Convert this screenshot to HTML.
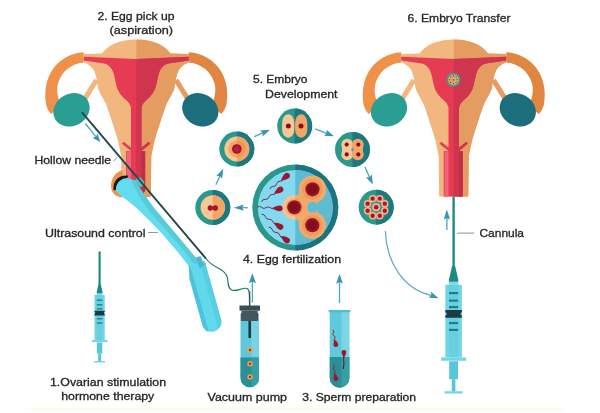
<!DOCTYPE html>
<html lang="en">
<head>
<meta charset="utf-8">
<title>IVF procedure</title>
<style>
html,body{margin:0;padding:0;background:#fff;}
body{width:600px;height:413px;overflow:hidden;}
svg{display:block;}
text{font-family:"Liberation Sans",sans-serif;font-size:11.6px;fill:#262626;stroke:#262626;stroke-width:0.32px;}
</style>
</head>
<body>
<svg width="600" height="413" viewBox="0 0 600 413">
<defs>
  <filter id="soft" x="-2%" y="-2%" width="104%" height="104%"><feGaussianBlur stdDeviation="0.6"/></filter>
  <marker id="ah" viewBox="0 0 10 10" refX="5" refY="5" markerWidth="7.5" markerHeight="7.5" orient="auto" markerUnits="userSpaceOnUse">
    <path d="M0,0.8 L10,5 L0,9.2 L2.8,5 Z" fill="#3d93b8"/>
  </marker>
</defs>
<rect width="600" height="413" fill="#ffffff"/>
<rect x="25" y="408" width="539" height="3.6" fill="#fefbf2"/>
<g filter="url(#soft)">
<!-- left uterus -->
<g transform="translate(0 0)">
<path d="M83.75,52.2 C70,53 58,60 51,72 C46,81 44,92 46,104 C46.8,108 48.5,111 51,114 L62,106 C57,99 56,88 58.5,82 C62,72 70,64 83.75,62.5 Z" fill="#ef9149"/>
<path d="M188.75,52.2 C202.5,53 214.5,60 221.5,72 C226.5,81 228.5,92 226.5,104 C225.7,108 224.0,111 221.5,114 L210.5,106 C215.5,99 216.5,88 214.0,82 C210.5,72 202.5,64 188.75,62.5 Z" fill="#e0863f"/>
<path d="M96.5,80 L85,98.5" stroke="#f2b67f" stroke-width="5.2" fill="none"/>
<path d="M176,80 L187.5,98.5" stroke="#e49c61" stroke-width="5.2" fill="none"/>
<ellipse cx="71.5" cy="109.8" rx="18.8" ry="16" transform="rotate(-30 71.5 109.8)" fill="#2a9e92"/>
<ellipse cx="200.3" cy="109.8" rx="18.8" ry="16" transform="rotate(30 200.3 109.8)" fill="#1d6e7c"/>
<clipPath id="rha"><rect x="136.25" y="30" width="80" height="200"/></clipPath>
<path d="M83.75,54 L102,53.4 C108,45 120,39.5 136.25,39.5 C152.5,39.5 164.5,45 170.5,53.4 L188.75,54 L188.75,62.4 C184,63.8 180.5,66.8 178.5,70.5 C176,76 175.5,82 174.5,88 C173.5,92 170,97 166.5,104 C162.5,115 158,129 155,139 C153.5,145 152.5,150 151.3,156 L150.8,197 L121.7,197 L121.2,156 C120,150 119,145 117.5,139 C114.5,129 110,115 106,104 C102.5,97 99,92 98,88 C97,82 96.5,76 94,70.5 C92,66.8 88.5,63.8 83.75,62.4 Z" fill="#f2b67f"/>
<path d="M83.75,54 L102,53.4 C108,45 120,39.5 136.25,39.5 C152.5,39.5 164.5,45 170.5,53.4 L188.75,54 L188.75,62.4 C184,63.8 180.5,66.8 178.5,70.5 C176,76 175.5,82 174.5,88 C173.5,92 170,97 166.5,104 C162.5,115 158,129 155,139 C153.5,145 152.5,150 151.3,156 L150.8,197 L121.7,197 L121.2,156 C120,150 119,145 117.5,139 C114.5,129 110,115 106,104 C102.5,97 99,92 98,88 C97,82 96.5,76 94,70.5 C92,66.8 88.5,63.8 83.75,62.4 Z" fill="#e49c61" clip-path="url(#rha)"/>
<path d="M83.75,56.7 L136.25,59 L188.75,56.7 L188.75,60.4 L168.5,63.6 C163.5,64.8 160.5,68.5 159.0,73 C157.5,78 157.2,81 156.2,85 C154.7,91.5 151.5,95.5 147.5,99 C144.0,102 142.0,104.5 141.5,108 L141.5,116 L141.5,147.6 L148.8,141.8 L150.4,143.8 L141.5,151 L145.2,151 L145.2,197 L126.2,197 L126.2,151 L131,151 L122,143.8 L123.6,141.8 L131,147.6 L131,116 L131,108 C130.5,104.5 128.5,102 125,99 C121,95.5 117.8,91.5 116.3,85 C115.3,81 115,78 113.5,73 C112,68.5 109,64.8 104,63.6 L83.75,60.4 Z" fill="#e63a52"/>
<path d="M83.75,56.7 L136.25,59 L188.75,56.7 L188.75,60.4 L168.5,63.6 C163.5,64.8 160.5,68.5 159.0,73 C157.5,78 157.2,81 156.2,85 C154.7,91.5 151.5,95.5 147.5,99 C144.0,102 142.0,104.5 141.5,108 L141.5,116 L141.5,147.6 L148.8,141.8 L150.4,143.8 L141.5,151 L145.2,151 L145.2,197 L126.2,197 L126.2,151 L131,151 L122,143.8 L123.6,141.8 L131,147.6 L131,116 L131,108 C130.5,104.5 128.5,102 125,99 C121,95.5 117.8,91.5 116.3,85 C115.3,81 115,78 113.5,73 C112,68.5 109,64.8 104,63.6 L83.75,60.4 Z" fill="#d0364f" clip-path="url(#rha)"/>
<rect x="127" y="151.4" width="4" height="45.6" fill="#f0657c"/>
<rect x="141.5" y="151.4" width="3.5" height="45.6" fill="#c02f49"/>
</g>
<path d="M122,170 C116,172 111,178 111,186 C111,193 116,198 124,197 L130,190 L124,176 Z" fill="#ea9550"/>
<path d="M150.5,185 L150.5,197 L140,197 Z" fill="#e49c61"/>
<!-- right uterus -->
<g transform="translate(317.5 0)">
<path d="M83.75,52.2 C70,53 58,60 51,72 C46,81 44,92 46,104 C46.8,108 48.5,111 51,114 L62,106 C57,99 56,88 58.5,82 C62,72 70,64 83.75,62.5 Z" fill="#ef9149"/>
<path d="M188.75,52.2 C202.5,53 214.5,60 221.5,72 C226.5,81 228.5,92 226.5,104 C225.7,108 224.0,111 221.5,114 L210.5,106 C215.5,99 216.5,88 214.0,82 C210.5,72 202.5,64 188.75,62.5 Z" fill="#e0863f"/>
<path d="M96.5,80 L85,98.5" stroke="#f2b67f" stroke-width="5.2" fill="none"/>
<path d="M176,80 L187.5,98.5" stroke="#e49c61" stroke-width="5.2" fill="none"/>
<ellipse cx="71.5" cy="109.8" rx="18.8" ry="16" transform="rotate(-30 71.5 109.8)" fill="#2a9e92"/>
<ellipse cx="200.3" cy="109.8" rx="18.8" ry="16" transform="rotate(30 200.3 109.8)" fill="#1d6e7c"/>
<clipPath id="rhb"><rect x="136.25" y="30" width="80" height="200"/></clipPath>
<path d="M83.75,54 L102,53.4 C108,45 120,39.5 136.25,39.5 C152.5,39.5 164.5,45 170.5,53.4 L188.75,54 L188.75,62.4 C184,63.8 180.5,66.8 178.5,70.5 C176,76 175.5,82 174.5,88 C173.5,92 170,97 166.5,104 C162.5,115 158,129 155,139 C153.5,145 152.5,150 151.3,156 L150.8,196.6 L121.7,196.6 L121.2,156 C120,150 119,145 117.5,139 C114.5,129 110,115 106,104 C102.5,97 99,92 98,88 C97,82 96.5,76 94,70.5 C92,66.8 88.5,63.8 83.75,62.4 Z" fill="#f2b67f"/>
<path d="M83.75,54 L102,53.4 C108,45 120,39.5 136.25,39.5 C152.5,39.5 164.5,45 170.5,53.4 L188.75,54 L188.75,62.4 C184,63.8 180.5,66.8 178.5,70.5 C176,76 175.5,82 174.5,88 C173.5,92 170,97 166.5,104 C162.5,115 158,129 155,139 C153.5,145 152.5,150 151.3,156 L150.8,196.6 L121.7,196.6 L121.2,156 C120,150 119,145 117.5,139 C114.5,129 110,115 106,104 C102.5,97 99,92 98,88 C97,82 96.5,76 94,70.5 C92,66.8 88.5,63.8 83.75,62.4 Z" fill="#e49c61" clip-path="url(#rhb)"/>
<path d="M83.75,56.7 L136.25,59 L188.75,56.7 L188.75,60.4 L168.5,63.6 C163.5,64.8 160.5,68.5 159.0,73 C157.5,78 157.2,81 156.2,85 C154.7,91.5 151.5,95.5 147.5,99 C144.0,102 142.0,104.5 141.5,108 L141.5,116 L141.5,147.6 L148.8,141.8 L150.4,143.8 L141.5,151 L145.2,151 L145.2,196.6 L126.2,196.6 L126.2,151 L131,151 L122,143.8 L123.6,141.8 L131,147.6 L131,116 L131,108 C130.5,104.5 128.5,102 125,99 C121,95.5 117.8,91.5 116.3,85 C115.3,81 115,78 113.5,73 C112,68.5 109,64.8 104,63.6 L83.75,60.4 Z" fill="#e63a52"/>
<path d="M83.75,56.7 L136.25,59 L188.75,56.7 L188.75,60.4 L168.5,63.6 C163.5,64.8 160.5,68.5 159.0,73 C157.5,78 157.2,81 156.2,85 C154.7,91.5 151.5,95.5 147.5,99 C144.0,102 142.0,104.5 141.5,108 L141.5,116 L141.5,147.6 L148.8,141.8 L150.4,143.8 L141.5,151 L145.2,151 L145.2,196.6 L126.2,196.6 L126.2,151 L131,151 L122,143.8 L123.6,141.8 L131,147.6 L131,116 L131,108 C130.5,104.5 128.5,102 125,99 C121,95.5 117.8,91.5 116.3,85 C115.3,81 115,78 113.5,73 C112,68.5 109,64.8 104,63.6 L83.75,60.4 Z" fill="#d0364f" clip-path="url(#rhb)"/>
<rect x="127" y="151.4" width="4" height="45.2" fill="#f0657c"/>
<rect x="141.5" y="151.4" width="3.5" height="45.2" fill="#c02f49"/>
</g>
<circle cx="453.4" cy="79.8" r="7.1" fill="#3a9c8e"/>
<circle cx="453.4" cy="79.8" r="5.4" fill="#c9c08e" opacity="0.75"/>
<circle cx="457.30" cy="79.80" r="1.5" fill="#e8b070"/><circle cx="457.30" cy="79.80" r="0.8" fill="#c02838"/>
<circle cx="456.16" cy="82.56" r="1.5" fill="#e8b070"/><circle cx="456.16" cy="82.56" r="0.8" fill="#c02838"/>
<circle cx="453.40" cy="83.70" r="1.5" fill="#e8b070"/><circle cx="453.40" cy="83.70" r="0.8" fill="#c02838"/>
<circle cx="450.64" cy="82.56" r="1.5" fill="#e8b070"/><circle cx="450.64" cy="82.56" r="0.8" fill="#c02838"/>
<circle cx="449.50" cy="79.80" r="1.5" fill="#e8b070"/><circle cx="449.50" cy="79.80" r="0.8" fill="#c02838"/>
<circle cx="450.64" cy="77.04" r="1.5" fill="#e8b070"/><circle cx="450.64" cy="77.04" r="0.8" fill="#c02838"/>
<circle cx="453.40" cy="75.90" r="1.5" fill="#e8b070"/><circle cx="453.40" cy="75.90" r="0.8" fill="#c02838"/>
<circle cx="456.16" cy="77.04" r="1.5" fill="#e8b070"/><circle cx="456.16" cy="77.04" r="0.8" fill="#c02838"/>
<circle cx="453.4" cy="79.8" r="1.7" fill="#e8b070"/><circle cx="453.4" cy="79.8" r="0.9" fill="#c02838"/>
<!-- probe -->
<path d="M113.6,190.5 C112.4,180.5 119,174.8 128,175.6 L127.3,179 C121.5,178.8 117.2,182.8 117.4,189.5 Z" fill="#15181a"/>
<path d="M115.6,191.2 L116.3,185.8 L118.8,181.6 L123,178.8 L127,177.9 L136,180.6 L139.5,187.5 L146,197 L154,208 L160,215 L196.5,258.5 L201,264 L192,272 L189.5,267 C178,252 168,240 158.5,230 C150,221 140,210.5 128,201 C123,197.5 119,194 116,191 Z" fill="#63dcf0"/>
<path d="M131,179.4 L136,180.6 L139.5,187.5 L146,197 L154,208 L160,215 L196.5,258.5 L200,263 L196,266.5 L193,262.7 C180,246 168,232 157,220 C148,210 139,198 131,179.4 Z" fill="#57ccd6"/>
<g transform="translate(195.5 264) rotate(-15.6)"><path d="M-7,0 L9.7,-0.5 L9.7,60.3 A9.7,9.7 0 0 1 -9.7,60.3 L-9.7,13 Z" fill="#62d8ec"/><path d="M-9.7,13 L-7,0 L-5.5,0 L-5.5,69 A9.7,9.7 0 0 1 -9.7,60.3 Z" fill="#4cc4da"/><path d="M4.5,-0.4 L9.7,-0.5 L9.7,60.3 A9.7,9.7 0 0 1 4.5,68.6 Z" fill="#56cfe2"/></g>
<path d="M196,257.5 L200.5,256 L204.5,266 L199.5,268.5 Z" fill="#4fb4d4"/>
<path d="M135.8,178 L140.5,177.6 L144.2,182 L144.2,185.8 L140,187 L136.3,181.5 Z" fill="#56c9bd"/>
<path d="M81.8,112.1 L206,258.6" stroke="#25474c" stroke-width="1.9" fill="none"/>
<path d="M205.5,258 C208.5,262 212,265 218,268 C223,270.5 226.5,273 227.5,278 C228.3,283 227.5,288.5 232,290.2 C237,291.8 243,287 247,288.5 C249.6,289.5 249.6,293 249.6,306" stroke="#1f7f66" stroke-width="1.2" fill="none"/>
<path d="M249.6,291.5 L249.6,306" stroke="#3a4f56" stroke-width="1.4" fill="none"/>
<path d="M85.3,123.5 L96.66,137.57" stroke="#4aa6c4" stroke-width="1.3" fill="none"/>
<path d="M100.40,142.20 L92.53,137.63 L95.91,136.64 L97.59,133.55 Z" fill="#3a93b6"/>
<path d="M113.5,161.2 L117,157.3" stroke="#5fa8c0" stroke-width="1" fill="none"/>
<path d="M148,232.5 L158,232.5" stroke="#6fa3b4" stroke-width="1" fill="none"/>
<path d="M457.2,233.1 L474.2,233.1" stroke="#7a98a4" stroke-width="1" fill="none"/>
<!-- vacuum pump -->
<clipPath id="cpvp"><rect x="251.5" y="300" width="20" height="100"/></clipPath>
<path d="M240.5,321 L259,321 L259,378 A9.25,9.25 0 0 1 240.5,378 Z" fill="#5fc9dc"/>
<path d="M240.5,321 L259,321 L259,378 A9.25,9.25 0 0 1 240.5,378 Z" fill="#76d4e5" clip-path="url(#cpvp)"/>
<clipPath id="cpvl"><rect x="230" y="357.5" width="40" height="40"/></clipPath>
<path d="M240.5,321 L259,321 L259,378 A9.25,9.25 0 0 1 240.5,378 Z" fill="#2a8f96" clip-path="url(#cpvl)"/>
<clipPath id="cpvl2"><rect x="251.5" y="357.5" width="20" height="40"/></clipPath>
<path d="M240.5,321 L259,321 L259,378 A9.25,9.25 0 0 1 240.5,378 Z" fill="#35a0a4" clip-path="url(#cpvl2)"/>
<rect x="239.5" y="305.5" width="20.5" height="5.2" fill="#3a4d52"/>
<path d="M241.5,310.7 L257.7,310.7 L257.7,313 L258.5,313.4 L258.5,321 L240.7,321 L240.7,313.4 L241.5,313 Z" fill="#3f585d"/>
<rect x="248.4" y="321" width="2.6" height="17" fill="#27383c"/>
<circle cx="250" cy="350" r="2.7" fill="#f3a33a"/><circle cx="250" cy="350" r="1.2" fill="#c4213a"/>
<circle cx="250" cy="363.7" r="2.7" fill="#f3a33a"/><circle cx="250" cy="363.7" r="1.2" fill="#c4213a"/>
<circle cx="250" cy="376.9" r="2.7" fill="#f3a33a"/><circle cx="250" cy="376.9" r="1.2" fill="#c4213a"/>
<path d="M252.4,302.6 L252.40,280.20" stroke="#4aa6c4" stroke-width="1.3" fill="none"/>
<path d="M252.40,273.20 L256.00,283.20 L252.40,281.60 L248.80,283.20 Z" fill="#3a93b6"/>
<!-- sperm tube -->
<clipPath id="cpst"><rect x="341.5" y="300" width="20" height="100"/></clipPath>
<path d="M329.7,311.5 L349.3,311.5 L349.3,377.9 A9.8,9.8 0 0 1 329.7,377.9 Z" fill="#5fc9dc"/>
<path d="M329.7,311.5 L349.3,311.5 L349.3,377.9 A9.8,9.8 0 0 1 329.7,377.9 Z" fill="#7ad6e6" clip-path="url(#cpst)"/>
<clipPath id="cpsl"><rect x="320" y="357" width="40" height="40"/></clipPath>
<path d="M329.7,311.5 L349.3,311.5 L349.3,377.9 A9.8,9.8 0 0 1 329.7,377.9 Z" fill="#2a8f96" clip-path="url(#cpsl)"/>
<clipPath id="cpsl2"><rect x="341.5" y="357" width="20" height="40"/></clipPath>
<path d="M329.7,311.5 L349.3,311.5 L349.3,377.9 A9.8,9.8 0 0 1 329.7,377.9 Z" fill="#35a0a4" clip-path="url(#cpsl2)"/>
<rect x="328.5" y="310" width="22" height="2.2" rx="1" fill="#4fbdd2"/>
<path d="M339.5,303 L339.50,280.70" stroke="#4aa6c4" stroke-width="1.3" fill="none"/>
<path d="M339.50,273.70 L342.90,283.70 L339.50,282.10 L336.10,283.70 Z" fill="#3a93b6"/>
<path d="M335.20,341.65 Q333.13,340.56 334.58,338.72 Q336.03,336.88 333.95,335.78 Q331.88,334.69 333.33,332.85 Q334.78,331.01 332.71,329.91 " stroke="#a3122a" stroke-width="0.9" fill="none"/><path d="M3.0,0 C3.0,3.30 -0.60,3.00 -4.50,0 C-0.60,-3.00 3.0,-3.30 3.0,0 Z" transform="translate(335.7 344) rotate(78)" fill="#a3122a"/>
<path d="M343.90,355.40 Q345.70,355.40 343.90,355.40 Q342.10,355.40 343.90,355.40 Q345.70,355.40 343.90,355.40 Q342.10,355.40 343.90,355.40 " stroke="#a3122a" stroke-width="0.9" fill="none"/><path d="M3.0,0 C3.0,3.30 -0.60,3.00 -4.50,0 C-0.60,-3.00 3.0,-3.30 3.0,0 Z" transform="translate(343.9 353) rotate(-90)" fill="#a3122a"/>
<path d="M343.9,356 C343,360 344.8,363 343.3,369" stroke="#5a1020" stroke-width="1" fill="none"/>
<path d="M335.28,375.64 Q333.27,374.59 334.81,372.93 Q336.34,371.26 334.33,370.22 Q332.32,369.18 333.85,367.51 Q335.38,365.85 333.37,364.80 " stroke="#a3122a" stroke-width="0.9" fill="none"/><path d="M3.0,0 C3.0,3.30 -0.60,3.00 -4.50,0 C-0.60,-3.00 3.0,-3.30 3.0,0 Z" transform="translate(335.7 378) rotate(80)" fill="#a3122a"/>
<!-- big circle -->
<clipPath id="cpB"><rect x="295.3" y="163.5" width="44" height="88"/></clipPath>
<circle cx="295.3" cy="207.5" r="43" fill="#2a968c"/>
<circle cx="295.3" cy="207.5" r="43" fill="#1f747e" clip-path="url(#cpB)"/>
<circle cx="295.3" cy="207.5" r="37.5" fill="#82d9f0"/>
<circle cx="295.3" cy="207.5" r="37.5" fill="#5ebad2" clip-path="url(#cpB)"/>
<g fill="#f6c290"><circle cx="312.5" cy="189.3" r="13.6"/><circle cx="294.3" cy="207.3" r="12.2"/><circle cx="312.3" cy="225.2" r="13.4"/><path d="M298,194 L317.5,198 L317.5,216.5 L298,221 Z"/></g>
<g fill="#f1a868" clip-path="url(#cpB)"><circle cx="312.5" cy="189.3" r="13.6"/><circle cx="294.3" cy="207.3" r="12.2"/><circle cx="312.3" cy="225.2" r="13.4"/><path d="M298,194 L317.5,198 L317.5,216.5 L298,221 Z"/></g>
<g fill="#f3ae78"><circle cx="312.5" cy="189.3" r="10.399999999999999"/><circle cx="294.3" cy="207.3" r="9.0"/><circle cx="312.3" cy="225.2" r="10.2"/></g>
<g fill="#ee9a58" clip-path="url(#cpB)"><circle cx="312.5" cy="189.3" r="10.399999999999999"/><circle cx="294.3" cy="207.3" r="9.0"/><circle cx="312.3" cy="225.2" r="10.2"/></g>
<circle cx="312.7" cy="207.2" r="5.4" fill="#55bede"/><rect x="313" y="204.3" width="8" height="5.8" fill="#5ebad2"/>
<circle cx="312.5" cy="189.3" r="7.1" fill="#9c1428"/><circle cx="312.5" cy="189.3" r="5" fill="#820e1e"/>
<circle cx="294.3" cy="207.3" r="7.1" fill="#9c1428"/><circle cx="294.3" cy="207.3" r="5" fill="#820e1e"/>
<circle cx="312.3" cy="225.2" r="7.1" fill="#9c1428"/><circle cx="312.3" cy="225.2" r="5" fill="#820e1e"/>
<path d="M283.35,178.57 Q282.79,181.30 280.00,181.19 Q277.22,181.08 276.65,183.80 Q276.09,186.53 273.31,186.42 Q270.52,186.31 269.96,189.03 " stroke="#7a1a3a" stroke-width="0.9" fill="none"/><path d="M4.2,0 C4.2,4.07 -0.84,3.70 -6.30,0 C-0.84,-3.70 4.2,-4.07 4.2,0 Z" transform="translate(286 176.5) rotate(-38)" fill="#9c1430"/>
<path d="M276.58,192.03 Q275.68,194.77 272.81,194.48 Q269.94,194.20 269.03,196.93 Q268.13,199.67 265.26,199.38 Q262.39,199.10 261.49,201.83 " stroke="#7a1a3a" stroke-width="0.9" fill="none"/><path d="M4.2,0 C4.2,4.07 -0.84,3.70 -6.30,0 C-0.84,-3.70 4.2,-4.07 4.2,0 Z" transform="translate(279.4 190.2) rotate(-33)" fill="#9c1430"/>
<path d="M275.14,208.12 Q272.80,209.80 270.65,207.89 Q268.50,205.97 266.16,207.65 Q263.82,209.33 261.66,207.42 Q259.51,205.50 257.17,207.18 " stroke="#7a1a3a" stroke-width="0.9" fill="none"/><path d="M4.2,0 C4.2,4.07 -0.84,3.70 -6.30,0 C-0.84,-3.70 4.2,-4.07 4.2,0 Z" transform="translate(278.5 208.3) rotate(3)" fill="#9c1430"/>
<path d="M276.61,224.32 Q273.74,224.56 272.88,221.80 Q272.02,219.05 269.15,219.29 Q266.28,219.52 265.42,216.77 Q264.56,214.02 261.69,214.26 " stroke="#7a1a3a" stroke-width="0.9" fill="none"/><path d="M4.2,0 C4.2,4.07 -0.84,3.70 -6.30,0 C-0.84,-3.70 4.2,-4.07 4.2,0 Z" transform="translate(279.4 226.2) rotate(34)" fill="#9c1430"/>
<path d="M283.28,237.73 Q280.40,237.86 279.64,235.08 Q278.88,232.30 276.00,232.43 Q273.12,232.57 272.36,229.79 Q271.60,227.01 268.72,227.14 " stroke="#7a1a3a" stroke-width="0.9" fill="none"/><path d="M4.2,0 C4.2,4.07 -0.84,3.70 -6.30,0 C-0.84,-3.70 4.2,-4.07 4.2,0 Z" transform="translate(286 239.7) rotate(36)" fill="#9c1430"/>
<!-- cells -->
<clipPath id="cp1"><rect x="212.8" y="189.0" width="18.5" height="37.0"/></clipPath>
<circle cx="212.8" cy="207.5" r="17.5" fill="#2a988c"/>
<circle cx="212.8" cy="207.5" r="17.5" fill="#1f7880" clip-path="url(#cp1)"/>
<circle cx="212.8" cy="207.5" r="12.2" fill="#f7c796"/>
<circle cx="212.8" cy="207.5" r="12.2" fill="#f1a566" clip-path="url(#cp1)"/>
<circle cx="210.3" cy="208" r="2.7" fill="#a3122a"/><circle cx="215.3" cy="208" r="2.7" fill="#a3122a"/>
<clipPath id="cp2"><rect x="236.8" y="130.5" width="18.5" height="37.0"/></clipPath>
<circle cx="236.8" cy="149" r="17.5" fill="#2a988c"/>
<circle cx="236.8" cy="149" r="17.5" fill="#1f7880" clip-path="url(#cp2)"/>
<circle cx="236.8" cy="149" r="12.5" fill="#f7c796"/>
<circle cx="236.8" cy="149" r="12.5" fill="#f1a566" clip-path="url(#cp2)"/>
<circle cx="236.8" cy="149" r="8.6" fill="#f4a868"/>
<circle cx="236.8" cy="149" r="8.6" fill="#f09552" clip-path="url(#cp2)"/>
<circle cx="236.8" cy="149" r="4.8" fill="#a3152b"/><circle cx="236.8" cy="149" r="2.8" fill="#c01c48"/>
<clipPath id="cp3"><rect x="294.7" y="107.5" width="18.5" height="37.0"/></clipPath>
<circle cx="294.7" cy="126" r="17.5" fill="#2a988c"/>
<circle cx="294.7" cy="126" r="17.5" fill="#1f7880" clip-path="url(#cp3)"/>
<rect x="282.09999999999997" y="114.3" width="12.2" height="23.4" rx="6.1" ry="8.5" fill="#f7c796"/>
<rect x="295.09999999999997" y="114.3" width="12.2" height="23.4" rx="6.1" ry="8.5" fill="#f1a566"/>
<circle cx="288.4" cy="126" r="2.5" fill="#8a0f1e"/><circle cx="301.0" cy="126" r="2.5" fill="#8a0f1e"/>
<clipPath id="cp4"><rect x="352.5" y="131.0" width="18.5" height="37.0"/></clipPath>
<circle cx="352.5" cy="149.5" r="17.5" fill="#2a988c"/>
<circle cx="352.5" cy="149.5" r="17.5" fill="#1f7880" clip-path="url(#cp4)"/>
<circle cx="347.2" cy="144.6" r="5.9" fill="#f7c796"/><circle cx="347.2" cy="154.4" r="5.9" fill="#f7c796"/><rect x="342.0" y="145.5" width="10.4" height="8" fill="#f7c796"/>
<circle cx="357.8" cy="144.6" r="5.9" fill="#f1a566"/><circle cx="357.8" cy="154.4" r="5.9" fill="#f1a566"/><rect x="352.6" y="145.5" width="10.4" height="8" fill="#f1a566"/>
<circle cx="346.7" cy="144.6" r="2.1" fill="#8a0f1e"/>
<circle cx="346.7" cy="154.4" r="2.1" fill="#8a0f1e"/>
<circle cx="358.3" cy="144.6" r="2.1" fill="#8a0f1e"/>
<circle cx="358.3" cy="154.4" r="2.1" fill="#8a0f1e"/>
<circle cx="352.5" cy="149.5" r="1.3" fill="#5a8fd0"/>
<clipPath id="cp5"><rect x="376.2" y="188.7" width="18.5" height="37.0"/></clipPath>
<circle cx="376.2" cy="207.2" r="17.5" fill="#2a988c"/>
<circle cx="376.2" cy="207.2" r="17.5" fill="#1f7880" clip-path="url(#cp5)"/>
<circle cx="376.2" cy="207.2" r="12.5" fill="#5aa880" opacity="0.55"/>
<circle cx="384.79" cy="210.76" r="3.7" fill="#f6b490"/><circle cx="384.79" cy="210.76" r="2.2" fill="#b01426"/>
<circle cx="379.76" cy="215.79" r="3.7" fill="#f6b490"/><circle cx="379.76" cy="215.79" r="2.2" fill="#b01426"/>
<circle cx="372.64" cy="215.79" r="3.7" fill="#f6b490"/><circle cx="372.64" cy="215.79" r="2.2" fill="#b01426"/>
<circle cx="367.61" cy="210.76" r="3.7" fill="#f6b490"/><circle cx="367.61" cy="210.76" r="2.2" fill="#b01426"/>
<circle cx="367.61" cy="203.64" r="3.7" fill="#f6b490"/><circle cx="367.61" cy="203.64" r="2.2" fill="#b01426"/>
<circle cx="372.64" cy="198.61" r="3.7" fill="#f6b490"/><circle cx="372.64" cy="198.61" r="2.2" fill="#b01426"/>
<circle cx="379.76" cy="198.61" r="3.7" fill="#f6b490"/><circle cx="379.76" cy="198.61" r="2.2" fill="#b01426"/>
<circle cx="384.79" cy="203.64" r="3.7" fill="#f6b490"/><circle cx="384.79" cy="203.64" r="2.2" fill="#b01426"/>
<circle cx="376.2" cy="207.2" r="4" fill="#f6b490"/><circle cx="376.2" cy="207.2" r="2.3" fill="#b01426"/>
<path d="M247.9,207.7 L240.80,207.70" stroke="#4aa6c4" stroke-width="1.3" fill="none"/>
<path d="M233.80,207.70 L243.80,204.60 L242.20,207.70 L243.80,210.80 Z" fill="#3a93b6"/>
<path d="M215.9,184.7 L220.44,174.75" stroke="#4aa6c4" stroke-width="1.3" fill="none"/>
<path d="M223.20,168.70 L222.21,178.69 L219.89,175.96 L216.30,175.99 Z" fill="#3a93b6"/>
<path d="M254.2,136.7 L263.92,132.39" stroke="#4aa6c4" stroke-width="1.3" fill="none"/>
<path d="M270.00,129.70 L262.63,136.52 L262.70,132.93 L260.00,130.58 Z" fill="#3a93b6"/>
<path d="M315.1,128.8 L327.90,133.79" stroke="#4aa6c4" stroke-width="1.3" fill="none"/>
<path d="M334.10,136.20 L324.07,135.78 L326.66,133.30 L326.43,129.72 Z" fill="#3a93b6"/>
<path d="M365,167.1 L370.09,178.53" stroke="#4aa6c4" stroke-width="1.3" fill="none"/>
<path d="M372.80,184.60 L365.96,177.25 L369.55,177.31 L371.90,174.60 Z" fill="#3a93b6"/>
<path d="M385.3,231 C386.5,262 403,289 431,295.4" stroke="#5aa9c8" stroke-width="1.2" fill="none"/>
<path d="M438.70,298.20 L428.67,297.83 L431.25,295.34 L431.00,291.76 Z" fill="#3a93b6"/>
<path d="M446.9,230 L446.90,216.50" stroke="#4aa6c4" stroke-width="1.3" fill="none"/>
<path d="M446.90,209.50 L450.10,219.50 L446.90,217.90 L443.70,219.50 Z" fill="#3a93b6"/>
<!-- syringes -->
<rect x="445.35" y="284.75" width="16.50" height="72.70" fill="#6fd5e5"/>
<rect x="449.10" y="284.75" width="9.00" height="72.70" fill="#58c5d9" opacity="0.3"/>
<rect x="441.10" y="357.45" width="25.00" height="3.30" fill="#6fd5e5"/>
<rect x="449.20" y="361.25" width="8.80" height="18.00" fill="#58c5d9"/>
<rect x="451.80" y="379.25" width="3.60" height="12.20" fill="#58c5d9"/>
<rect x="444.60" y="391.25" width="18.00" height="2.30" fill="#6fd5e5"/>
<rect x="449.00" y="292.05" width="9.20" height="2.10" fill="#1f7c84"/>
<rect x="449.00" y="299.55" width="9.20" height="2.10" fill="#1f7c84"/>
<rect x="449.00" y="306.05" width="9.20" height="2.10" fill="#1f7c84"/>
<rect x="449.00" y="322.05" width="9.20" height="2.10" fill="#1f7c84"/>
<rect x="449.00" y="328.85" width="9.20" height="2.10" fill="#1f7c84"/>
<path d="M445.35,310.05 L461.85,310.05 L461.85,312.35 L460.60,313.05 L460.60,314.75 L461.85,315.45 L461.85,317.75 L445.35,317.75 L445.35,315.45 L446.60,314.75 L446.60,313.05 L445.35,312.35 Z" fill="#1c3b40"/>
<rect x="449.00" y="281.55" width="9.20" height="3.40" fill="#7adfeb"/>
<path d="M452.10,265.75 L455.10,265.75 L458.30,279.75 L458.30,281.75 L448.90,281.75 L448.90,279.75 Z" fill="#1f8a85"/>
<rect x="452.40" y="196.4" width="2.40" height="70.35" fill="#1f8a85"/>
<rect x="94.48" y="295.00" width="10.23" height="45.07" fill="#6fd5e5"/>
<rect x="96.81" y="295.00" width="5.58" height="45.07" fill="#58c5d9" opacity="0.3"/>
<rect x="91.85" y="340.07" width="15.50" height="2.05" fill="#6fd5e5"/>
<rect x="96.87" y="342.43" width="5.46" height="11.16" fill="#58c5d9"/>
<rect x="98.10" y="353.59" width="3.00" height="7.56" fill="#58c5d9"/>
<rect x="94.02" y="361.03" width="11.16" height="1.43" fill="#6fd5e5"/>
<rect x="96.75" y="299.53" width="5.70" height="1.30" fill="#1f7c84"/>
<rect x="96.75" y="304.18" width="5.70" height="1.30" fill="#1f7c84"/>
<rect x="96.75" y="308.21" width="5.70" height="1.30" fill="#1f7c84"/>
<rect x="96.75" y="318.13" width="5.70" height="1.30" fill="#1f7c84"/>
<rect x="96.75" y="322.34" width="5.70" height="1.30" fill="#1f7c84"/>
<path d="M94.48,310.69 L104.71,310.69 L104.71,312.11 L103.94,312.55 L103.94,313.60 L104.71,314.03 L104.71,315.46 L94.48,315.46 L94.48,314.03 L95.26,313.60 L95.26,312.55 L94.48,312.11 Z" fill="#1c3b40"/>
<rect x="96.75" y="293.02" width="5.70" height="2.11" fill="#7adfeb"/>
<path d="M98.67,283.22 L100.53,283.22 L102.51,291.90 L102.51,293.14 L96.69,293.14 L96.69,291.90 Z" fill="#1f8a85"/>
<rect x="98.52" y="251.5" width="2.16" height="32.34" fill="#1f8a85"/>
</g>
<g filter="url(#soft)">
<text x="97.5" y="19.5" textLength="77" lengthAdjust="spacingAndGlyphs">2. Egg pick up</text>
<text x="109.5" y="33.75" textLength="63.5" lengthAdjust="spacingAndGlyphs">(aspiration)</text>
<text x="253" y="82.5" textLength="54.5" lengthAdjust="spacingAndGlyphs">5. Embryo</text>
<text x="265" y="97.5" textLength="72.5" lengthAdjust="spacingAndGlyphs">Development</text>
<text x="407.5" y="22" textLength="103" lengthAdjust="spacingAndGlyphs">6. Embryo Transfer</text>
<text x="34.5" y="163.75" textLength="76.5" lengthAdjust="spacingAndGlyphs">Hollow needle</text>
<text x="45" y="237" textLength="100.5" lengthAdjust="spacingAndGlyphs">Ultrasound control</text>
<text x="479.5" y="237" textLength="44.5" lengthAdjust="spacingAndGlyphs">Cannula</text>
<text x="243" y="263.3" textLength="98" lengthAdjust="spacingAndGlyphs">4. Egg fertilization</text>
<text x="50" y="386.25" textLength="116" lengthAdjust="spacingAndGlyphs">1.Ovarian stimulation</text>
<text x="61.25" y="400" textLength="93" lengthAdjust="spacingAndGlyphs">hormone therapy</text>
<text x="207.5" y="401.25" textLength="79.5" lengthAdjust="spacingAndGlyphs">Vacuum pump</text>
<text x="302.3" y="401.25" textLength="113.8" lengthAdjust="spacingAndGlyphs">3. Sperm preparation</text>
</g>
</svg>
</body>
</html>
